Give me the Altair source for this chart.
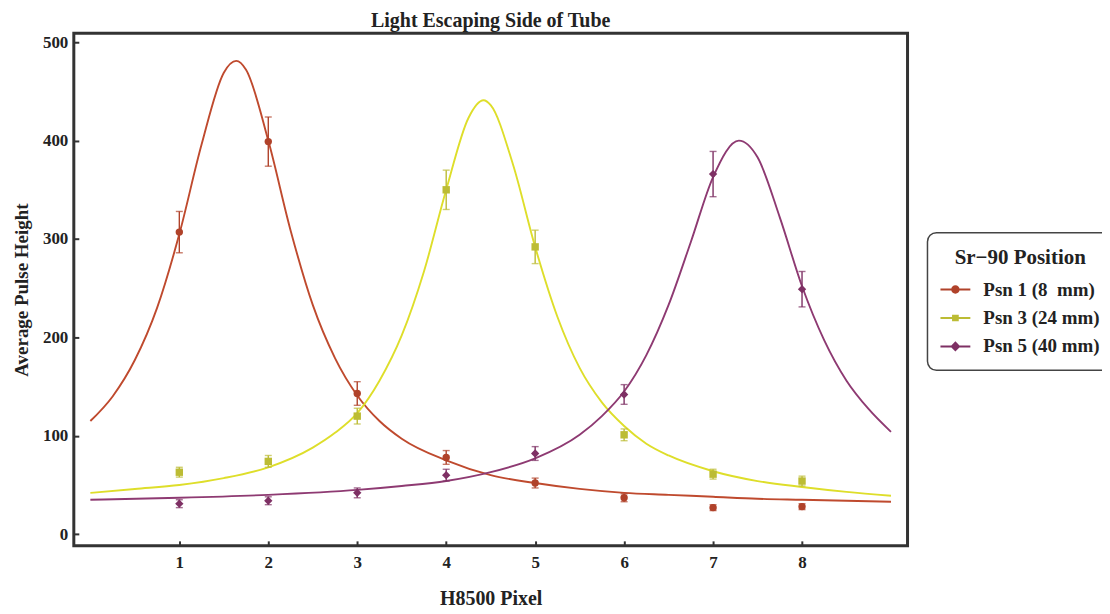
import altair as alt
import pandas as pd

# ---------------- data ----------------
pixels = [1, 2, 3, 4, 5, 6, 7, 8]
series_names = ["Psn 1 (8\u00a0 mm)", "Psn 3 (24 mm)", "Psn 5 (40 mm)"]

psn1_y = [307, 399, 143, 78, 52, 37, 27, 28]
psn1_err = [21, 25, 12, 7, 5, 4, 3, 3]
psn3_y = [63, 74, 120, 350, 292, 101, 61, 54]
psn3_err = [5, 6, 8, 20, 17, 6, 5, 5]
psn5_y = [31, 34, 42, 60, 82, 142, 366, 249]
psn5_err = [4, 4, 5, 6, 7, 10, 23, 18]

# fitted curves
fit1_x = [0, 0.25, 0.5, 0.75, 1, 1.25, 1.5, 1.64, 1.75, 2, 2.25, 2.5, 2.75, 3, 3.25, 3.5, 4, 4.5, 5, 5.5, 6, 6.5, 7, 7.5, 8, 8.5, 9]
fit1_y = [115, 140, 177, 230, 305, 396, 469, 481, 472, 400, 309, 233, 179, 141, 115, 97, 75, 60, 52, 46, 42, 40, 38, 36, 35, 34, 33]
fit3_x = [0, 0.5, 1, 1.5, 2, 2.5, 2.75, 3, 3.25, 3.5, 3.75, 4, 4.25, 4.42, 4.5, 4.75, 5, 5.25, 5.5, 5.75, 6, 6.25, 6.5, 7, 7.5, 8, 8.5, 9]
fit3_y = [42, 46, 50, 57, 68, 88, 103, 123, 156, 202, 267, 350, 423, 441, 436, 376, 292, 221, 169, 134, 110, 92, 80, 64, 54, 48, 43, 39]
fit5_x = [0, 1, 2, 3, 3.5, 4, 4.5, 5, 5.5, 5.75, 6, 6.25, 6.5, 6.75, 7, 7.29, 7.5, 7.75, 8, 8.25, 8.5, 8.75, 9]
fit5_y = [35, 37, 40, 45, 49, 54, 63, 77, 101, 120, 145, 182, 233, 297, 363, 400, 383, 322, 252, 197, 156, 127, 104]

line_colors = ["#bf4a2e", "#dede2a", "#8e3a72"]
marker_colors = ["#b0422a", "#bcbc34", "#7e3064"]
marker_shapes = ["circle", "square", "diamond"]
marker_sizes = [55, 55, 70]

# legend symbols: short line + marker (custom paths)
legend_paths = [
    "M-1.07,-0.07H1.07V0.07H-1.07Z M0,-0.3A0.3,0.3 0 1,1 0,0.3A0.3,0.3 0 1,1 0,-0.3Z",
    "M-1.07,-0.07H1.07V0.07H-1.07Z M-0.24,-0.24H0.24V0.24H-0.24Z",
    "M-1.07,-0.07H1.07V0.07H-1.07Z M0,-0.36L0.36,0L0,0.36L-0.36,0Z",
]

FONT = "Liberation Serif"
TXT = "#222222"

xs = alt.Scale(domain=[-0.186, 9.186], nice=False, zero=False)
ys = alt.Scale(domain=[-11.85, 509.1], nice=False, zero=False)

x_axis = alt.Axis(values=pixels, title="H8500 Pixel", format="d")
y_axis = alt.Axis(values=[0, 100, 200, 300, 400, 500], title="Average Pulse Height", format="d")

series_y = [psn1_y, psn3_y, psn5_y]
series_e = [psn1_err, psn3_err, psn5_err]
fits = [(fit1_x, fit1_y), (fit3_x, fit3_y), (fit5_x, fit5_y)]

layers = []
all_pts = []
for i, name in enumerate(series_names):
    fx, fy = fits[i]
    fdf = pd.DataFrame({"x": fx, "y": fy})
    layers.append(
        alt.Chart(fdf).mark_line(color=line_colors[i], strokeWidth=1.9, interpolate="monotone", clip=True)
        .encode(x=alt.X("x:Q", scale=xs, axis=x_axis), y=alt.Y("y:Q", scale=ys, axis=y_axis))
    )
for i, name in enumerate(series_names):
    pdf = pd.DataFrame({
        "x": pixels,
        "y": series_y[i],
        "lo": [v - e for v, e in zip(series_y[i], series_e[i])],
        "hi": [v + e for v, e in zip(series_y[i], series_e[i])],
        "series": name,
    })
    all_pts.append(pdf)
    base = alt.Chart(pdf)
    layers.append(base.mark_rule(color=marker_colors[i], strokeWidth=1.4).encode(
        x=alt.X("x:Q", scale=xs), y=alt.Y("lo:Q", scale=ys), y2="hi:Q"))
    layers.append(base.mark_tick(color=marker_colors[i], orient="horizontal", size=7, thickness=1.4).encode(
        x=alt.X("x:Q", scale=xs), y=alt.Y("lo:Q", scale=ys)))
    layers.append(base.mark_tick(color=marker_colors[i], orient="horizontal", size=7, thickness=1.4).encode(
        x=alt.X("x:Q", scale=xs), y=alt.Y("hi:Q", scale=ys)))
    layers.append(base.mark_point(color=marker_colors[i], filled=True, opacity=1,
                                  shape=marker_shapes[i], size=marker_sizes[i]).encode(
        x=alt.X("x:Q", scale=xs), y=alt.Y("y:Q", scale=ys)))

legend_df = pd.concat(all_pts, ignore_index=True)
leg = alt.Legend(title="Sr\u221290 Position", orient="none", legendX=856, legendY=200,
                 symbolOpacity=1, symbolSize=784, symbolStrokeWidth=0, titleAnchor="middle")
layers.append(
    alt.Chart(legend_df).mark_point(filled=True, opacity=0).encode(
        x=alt.X("x:Q", scale=xs),
        y=alt.Y("y:Q", scale=ys),
        color=alt.Color("series:N", scale=alt.Scale(domain=series_names, range=marker_colors), legend=leg),
        shape=alt.Shape("series:N", scale=alt.Scale(domain=series_names, range=legend_paths), legend=leg),
    )
)

chart = alt.layer(*layers).properties(
    width=836,
    height=514,
    autosize=alt.AutoSizeParams(type="none"),
    padding={"left": 66, "top": 24.5, "right": 195, "bottom": 66},
    title=alt.Title("Light Escaping Side of Tube", font=FONT, fontSize=20, fontWeight="bold",
                    color=TXT, anchor="middle", offset=2),
).configure_view(
    stroke="#333333", strokeWidth=3
).configure_axis(
    domain=False, grid=False, offset=-5, tickSize=5, tickWidth=2, tickColor="#333333",
    labelFont=FONT, labelFontSize=17, labelFontWeight="bold", labelColor=TXT,
    titleFont=FONT, titleFontSize=20, titleFontWeight="bold", titleColor=TXT,
).configure_axisX(
    labelPadding=9, titlePadding=18
).configure_axisY(
    labelPadding=6, titlePadding=11, titleFontSize=19
).configure_legend(
    strokeColor="#444444", strokeWidth=1.5, cornerRadius=9, padding=14, fillColor="white",
    titleFont=FONT, titleFontSize=21, titleFontWeight="bold", titleColor=TXT, titlePadding=8,
    labelFont=FONT, labelFontSize=19, labelFontWeight="bold", labelColor=TXT, labelLimit=300,
    labelOffset=14, rowPadding=4.5,
)

chart.save("out.html", embed_options={"renderer": "svg", "actions": False})
